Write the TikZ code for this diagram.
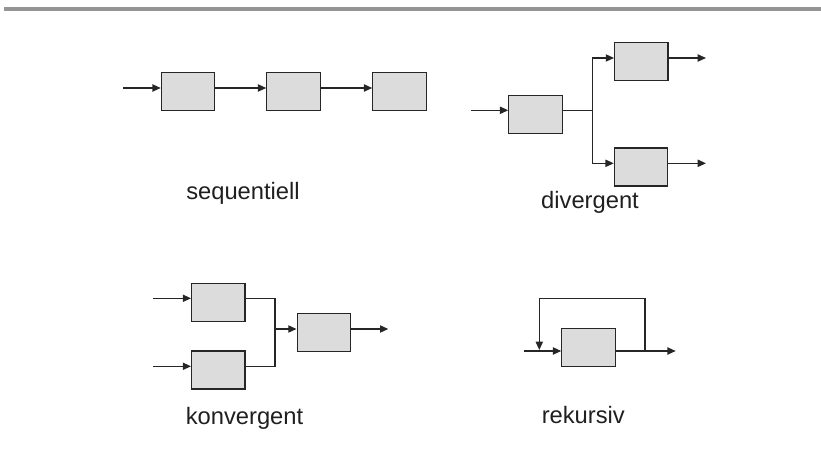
\documentclass[tikz,border=0pt]{standalone}
\usepackage{fontspec}
\setmainfont{Liberation Sans}
\usetikzlibrary{arrows.meta}
\definecolor{barcol}{HTML}{959595}
\definecolor{boxfill}{HTML}{DCDCDC}
\definecolor{linecol}{HTML}{262626}
\begin{document}
\begin{tikzpicture}[x=0.75pt,y=-0.75pt,
  blk/.style={draw=linecol,line width=0.9pt,fill=boxfill,inner sep=0pt,
              minimum width=40pt,minimum height=28.5pt},
  flow/.style={draw=linecol,line width=0.95pt},
  arr/.style={flow,-{Triangle[length=6.2pt,width=5.4pt]}},
  lbl/.style={anchor=base,inner sep=0pt,text=black!88,font=\fontsize{17.8}{20}\selectfont}]
\useasboundingbox (0,0) rectangle (821,466);
% header rule
\fill[barcol] (4,6.8) rectangle (821,11);

% --- sequentiell ---
\node[blk] (s1) at (188,91.6) {};
\node[blk] (s2) at (293.5,91.6) {};
\node[blk] (s3) at (399.5,91.6) {};
\coordinate (sin) at (123,88);
\draw[arr] (sin) -- (sin -| s1.west);
\draw[arr] (sin -| s1.east) -- (sin -| s2.west);
\draw[arr] (sin -| s2.east) -- (sin -| s3.west);
\node[lbl] (tseq) at (243,199.5) {sequentiell};

% --- divergent ---
\node[blk] (d1) at (535.5,114.5) {};
\node[blk] (d2) at (641.3,61.7) {};
\node[blk] (d3) at (641,167) {};
\coordinate (din) at (471,110.3);
\coordinate (dsplit) at (592.3,110.3);
\coordinate (dup) at (592.3,58);
\coordinate (ddn) at (592.3,163.3);
\coordinate (dout1) at (706,58);
\coordinate (dout2) at (706,163.3);
\draw[arr] (din) -- (din -| d1.west);
\draw[flow] (din -| d1.east) -- (dsplit);
\draw[arr] (dsplit) -- (dup) -- (dup -| d2.west);
\draw[arr] (dsplit) -- (ddn) -- (ddn -| d3.west);
\draw[arr] (dout1 -| d2.east) -- (dout1);
\draw[arr] (dout2 -| d3.east) -- (dout2);
\node[lbl] (tdiv) at (590,209) {divergent};

% --- konvergent ---
\node[blk] (k1) at (218.3,302.2) {};
\node[blk] (k2) at (218.3,370) {};
\node[blk] (k3) at (323.8,332.2) {};
\coordinate (kin1) at (153.3,298.3);
\coordinate (kin2) at (153.3,366.3);
\coordinate (kj1) at (275,298.3);
\coordinate (kj2) at (275,366.3);
\coordinate (kj) at (275,329);
\coordinate (kout) at (388.3,329);
\draw[arr] (kin1) -- (kin1 -| k1.west);
\draw[arr] (kin2) -- (kin2 -| k2.west);
\draw[flow] (kin1 -| k1.east) -- (kj1) -- (kj2) -- (kin2 -| k2.east);
\draw[arr] (kj) -- (kj -| k3.west);
\draw[arr] (kj -| k3.east) -- (kout);
\node[lbl] (tkon) at (244.5,424.5) {konvergent};

% --- rekursiv ---
\node[blk] (r1) at (588.5,347.2) {};
\coordinate (rin) at (524,351);
\coordinate (rtap) at (645,351);
\coordinate (rout) at (675.7,351);
\coordinate (rtop1) at (645,298.3);
\coordinate (rtop2) at (539.3,298.3);
\coordinate (rback) at (539.3,350);
\draw[arr] (rin) -- (rin -| r1.west);
\draw[arr] (rin -| r1.east) -- (rout);
\draw[arr] (rtap) -- (rtop1) -- (rtop2) -- (rback);
\node[lbl] (trek) at (583.3,424) {rekursiv};
\end{tikzpicture}
\end{document}
